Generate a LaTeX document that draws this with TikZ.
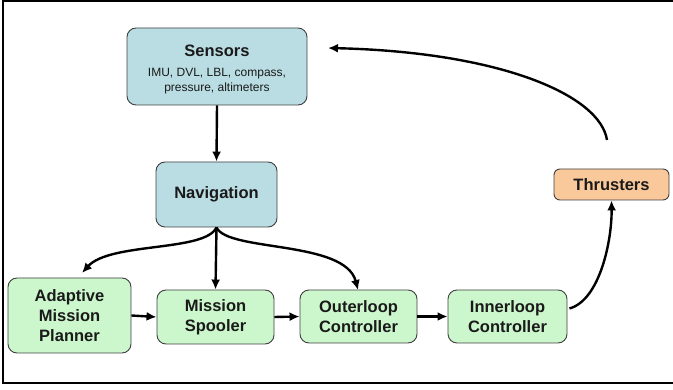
\documentclass[tikz,border=0pt]{standalone}
\usepackage{fontspec}
\setmainfont{Liberation Sans}
\usetikzlibrary{arrows.meta}
\definecolor{bluefill}{HTML}{B9DDE3}
\definecolor{greenfill}{HTML}{CCF7CC}
\definecolor{orangefill}{HTML}{FAC99B}
\definecolor{edgegray}{HTML}{404040}
\definecolor{txt}{HTML}{1A1A1A}
\tikzset{
  box/.style={draw=edgegray, line width=0.9pt, rounded corners=9pt, align=center,
    text=txt, font=\bfseries\fontsize{16.5}{20}\selectfont, inner sep=0pt},
  bluebox/.style={box, fill=bluefill},
  greenbox/.style={box, fill=greenfill},
  orangebox/.style={box, fill=orangefill, rounded corners=6pt},
  conn/.style={line width=2.4pt, -{Latex[length=10pt,width=9pt]}, black},
  frame/.style={line width=1.2pt, black}
}
\begin{document}
\begin{tikzpicture}[x=1pt,y=-1pt]
\useasboundingbox (0,0) rectangle (673,390);
\draw[frame] (673,1) -- (3,1) -- (3,383) -- (673,383);

\node[bluebox, minimum width=180pt, minimum height=77pt, align=none] (sensors) at (217,66.5)
  {\mdseries\fontsize{12}{15}\selectfont\def\arraystretch{1}%
   \raisebox{-7pt}[0pt][0pt]{\begin{tabular}{@{}c@{}}{\bfseries\fontsize{16.5}{20}\selectfont Sensors}\\[5pt]
  IMU, DVL, LBL, compass,\\
  pressure, altimeters\end{tabular}}};
\node[bluebox, minimum width=121pt, minimum height=65pt] (nav) at (216.5,194.5) {Navigation};
\node[greenbox, minimum width=123pt, minimum height=75pt] (adapt) at (69.5,315.5) {Adaptive\\Mission\\Planner};
\node[greenbox, minimum width=117pt, minimum height=54pt] (spool) at (215.5,317) {Mission\\Spooler};
\node[greenbox, minimum width=117pt, minimum height=53pt] (outer) at (358.5,316.5) {Outerloop\\Controller};
\node[greenbox, minimum width=119pt, minimum height=53pt] (inner) at (507.5,316.5) {Innerloop\\Controller};
\node[orangebox, minimum width=115pt, minimum height=31pt] (thr) at (611.5,184.5) {Thrusters};

\coordinate (thrtop) at (607,140);

\draw[conn] (sensors.south) -- (nav.north);
\draw[conn] (nav.south) -- (spool.north);
\draw[conn] (nav.south) .. controls (205,252) and (110,242) .. (82,273);
\draw[conn] (nav.south) .. controls (228,252) and (345,240) .. (358,290);
\draw[conn] (adapt.east) -- (spool.west);
\draw[conn] (spool.east) -- (outer.west);
\draw[conn] (outer.east) -- (inner.west);
\draw[conn] (inner.east) ++(2,-8) .. controls (600,300) and (612,240) .. (thr.south);
\draw[conn] (thrtop) .. controls (600,95) and (500,52) .. (328,48);
\end{tikzpicture}
\end{document}
